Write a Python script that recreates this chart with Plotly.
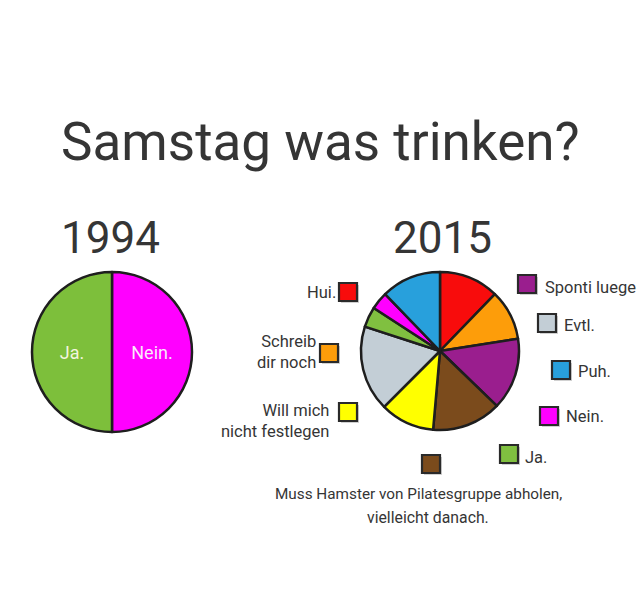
import plotly.graph_objects as go

W, H = 640, 606

# ---- data ----
labels_1994 = ["Nein.", "Ja."]
values_1994 = [50, 50]
colors_1994 = ["#ff00ff", "#7dbf3b"]

labels_2015 = ["Hui.", "Schreib dir noch", "Sponti luege",
               "Muss Hamster von Pilatesgruppe abholen, vielleicht danach.",
               "Will mich nicht festlegen", "Evtl.", "Ja.", "Nein.", "Puh."]
values_2015 = [44, 37, 53, 51, 40, 63, 15, 13, 44]
colors_2015 = ["#f80c0c", "#fd9d0a", "#9a1e8e", "#7b4b1c", "#ffff00",
               "#c3ced6", "#80c040", "#ff00ff", "#28a0dc"]

title_text = "Samstag was trinken?"
year_labels = ["1994", "2015"]

FONT = "Roboto, Liberation Sans, sans-serif"
TXT = "#353535"


def px(x, y):
    return x / W, 1 - y / H


def dom(x0, y0, x1, y1):
    return dict(x=[x0 / W, x1 / W], y=[1 - y1 / H, 1 - y0 / H])


fig = go.Figure()
fig.add_trace(go.Pie(
    labels=labels_1994, values=values_1994, sort=False, direction="clockwise",
    rotation=0, domain=dom(32, 272, 192, 432),
    marker=dict(colors=colors_1994, line=dict(color="#1e1e1e", width=2.5)),
    textinfo="label", textposition="inside", insidetextorientation="horizontal",
    insidetextfont=dict(family=FONT, size=18, color=["#fbe8fb", "#f3f5df"]),
    showlegend=False, hoverinfo="label+percent"))
fig.add_trace(go.Pie(
    labels=labels_2015, values=values_2015, sort=False, direction="clockwise",
    rotation=0, domain=dom(361, 272, 519, 430),
    marker=dict(colors=colors_2015, line=dict(color="#1e1e1e", width=2.5)),
    textinfo="none", showlegend=False, hoverinfo="label+percent"))

annotations = []
shapes = []


def text(x, y, s, size, xanchor="center", align="center"):
    ax, ay = px(x, y)
    annotations.append(dict(x=ax, y=ay, xref="paper", yref="paper", text=s,
                            showarrow=False, xanchor=xanchor, yanchor="middle",
                            align=align, font=dict(family=FONT, size=size, color=TXT)))


def square(cx, cy, color, s=18):
    x0, y1 = px(cx - s / 2, cy - s / 2)
    x1, y0 = px(cx + s / 2, cy + s / 2)
    sx0, sy1 = px(cx - s / 2 + 2, cy - s / 2 + 2)
    sx1, sy0 = px(cx + s / 2 + 2, cy + s / 2 + 2)
    shapes.append(dict(type="rect", xref="paper", yref="paper", x0=sx0, x1=sx1,
                       y0=sy0, y1=sy1, fillcolor="rgba(0,0,0,0.18)", line=dict(width=0)))
    shapes.append(dict(type="rect", xref="paper", yref="paper", x0=x0, x1=x1,
                       y0=y0, y1=y1, fillcolor=color, line=dict(color="#2a2a2a", width=2.2)))


text(320, 142, title_text, 53)
text(110, 238, year_labels[0], 44)
text(442, 238, year_labels[1], 44)

# legend (2015)
square(348, 292, colors_2015[0]); text(338, 292, "Hui.", 16.5, "right", "right")
square(329, 353, colors_2015[1]); text(318, 352, "Schreib<br>dir noch", 16.5, "right", "right")
square(348, 412, colors_2015[4]); text(331, 421, "Will mich<br>nicht festlegen", 16.5, "right", "right")
square(527, 284, colors_2015[2]); text(543, 287, "Sponti luege", 16.5, "left", "left")
square(547, 323, colors_2015[5]); text(562, 325, "Evtl.", 16.5, "left", "left")
square(561, 370, colors_2015[8]); text(576, 371, "Puh.", 16.5, "left", "left")
square(549, 416, colors_2015[7]); text(564, 417, "Nein.", 16.5, "left", "left")
square(509, 454, colors_2015[6]); text(523, 457, "Ja.", 16.5, "left", "left")
square(431, 464, colors_2015[3])
text(418, 494, "Muss Hamster von Pilatesgruppe abholen,", 15.3)
text(428, 517, "vielleicht danach.", 15.8)

fig.update_layout(width=W, height=H, margin=dict(l=0, r=0, t=0, b=0),
                  paper_bgcolor="white", plot_bgcolor="white",
                  annotations=annotations, shapes=shapes)
fig.write_html("out.html", config={"displayModeBar": False},
               post_script="document.body.style.margin='0';")
